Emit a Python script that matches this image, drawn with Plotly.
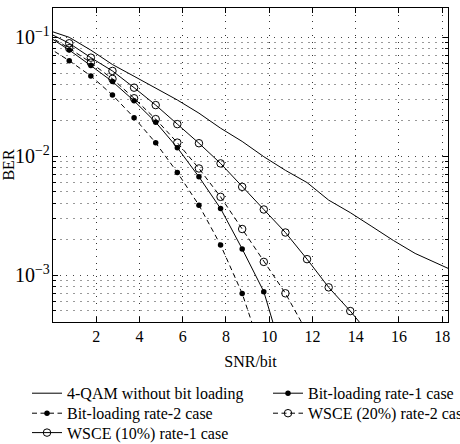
import plotly.graph_objects as go

# ---- data ----
qam_x = [-0.25, 0.75, 1.75, 2.75, 3.75, 4.75, 5.75, 6.75, 7.75, 8.75, 9.75,
         10.75, 11.75, 12.75, 13.75, 14.75, 15.75, 16.75, 17.75, 18.75]
qam_ber = [0.115, 0.100, 0.078, 0.059, 0.047, 0.0375, 0.0297, 0.023, 0.0172, 0.0133,
           0.0099, 0.0076, 0.0060, 0.00427, 0.00335, 0.00256, 0.00195, 0.00152,
           0.00126, 0.00104]

bl1_x = [-0.25, 0.75, 1.75, 2.75, 3.75, 4.75, 5.75, 6.75, 7.75, 8.75, 9.75, 10.75]
bl1_ber = [0.1026, 0.0782, 0.0578, 0.0424, 0.0292, 0.0193, 0.0118, 0.0067, 0.00363,
           0.00166, 0.000725, 0.000177]

bl2_x = [-0.25, 0.75, 1.75, 2.75, 3.75, 4.75, 5.75, 6.75, 7.75, 8.75, 9.75]
bl2_ber = [0.0828, 0.0636, 0.0473, 0.0327, 0.0211, 0.01295, 0.0073, 0.00387, 0.00179,
           0.00070, 0.00020]

w20_x = [-0.25, 0.75, 1.75, 2.75, 3.75, 4.75, 5.75, 6.75, 7.75, 8.75, 9.75, 10.75, 11.75]
w20_ber = [0.104, 0.081, 0.0612, 0.0447, 0.0307, 0.0205, 0.0130, 0.00788, 0.00455,
           0.00244, 0.00129, 0.000702, 0.00033]

w10_x = [-0.25, 0.75, 1.75, 2.75, 3.75, 4.75, 5.75, 6.75, 7.75, 8.75, 9.75, 10.75,
         11.75, 12.75, 13.75, 14.75]
w10_ber = [0.110, 0.0891, 0.0674, 0.0521, 0.0377, 0.0269, 0.0186, 0.01285, 0.00869,
           0.00552, 0.00356, 0.00228, 0.00136, 0.000788, 0.000498, 0.00030]

names = ["4-QAM without bit loading", "Bit-loading rate-1 case",
         "Bit-loading rate-2 case", "WSCE (20%) rate-2 case",
         "WSCE (10%) rate-1 case"]

x_ticks = [2, 4, 6, 8, 10, 12, 14, 16, 18]

FONT = "Liberation Serif"
DASH = "5px,3.5px"

fig = go.Figure()
fig.add_trace(go.Scatter(x=qam_x, y=qam_ber, mode="lines", name=names[0],
                         line=dict(color="black", width=1), legend="legend"))
fig.add_trace(go.Scatter(x=bl1_x, y=bl1_ber, mode="lines+markers", name=names[1],
                         line=dict(color="black", width=1),
                         marker=dict(symbol="circle", size=5.5, color="black"),
                         legend="legend2"))
fig.add_trace(go.Scatter(x=bl2_x, y=bl2_ber, mode="lines+markers", name=names[2],
                         line=dict(color="black", width=1, dash=DASH),
                         marker=dict(symbol="circle", size=5.5, color="black"),
                         legend="legend3"))
fig.add_trace(go.Scatter(x=w20_x, y=w20_ber, mode="lines+markers", name=names[3],
                         line=dict(color="black", width=1, dash=DASH),
                         marker=dict(symbol="circle-open", size=7.5, color="black",
                                     line=dict(width=1, color="black")),
                         legend="legend4"))
fig.add_trace(go.Scatter(x=w10_x, y=w10_ber, mode="lines+markers", name=names[4],
                         line=dict(color="black", width=1),
                         marker=dict(symbol="circle-open", size=7.5, color="black",
                                     line=dict(width=1, color="black")),
                         legend="legend5"))

leg_font = dict(family=FONT, size=16, color="black")
def leg(x, y):
    return dict(x=x, y=y, xanchor="left", yanchor="middle", xref="paper", yref="paper",
                bgcolor="rgba(0,0,0,0)", borderwidth=0, font=leg_font,
                orientation="v", itemwidth=30)

c1 = (27 - 53) / 395
c2 = (268 - 53) / 395
r1 = (322 - 393.3) / 314
r2 = (322 - 413.3) / 314
r3 = (322 - 432.7) / 314

fig.update_layout(
    width=460, height=444,
    margin=dict(l=53, r=12, t=8, b=122, autoexpand=False),
    paper_bgcolor="white", plot_bgcolor="white",
    font=dict(family=FONT, size=16, color="black"),
    showlegend=True,
    legend=leg(c1, r1), legend2=leg(c2, r1), legend3=leg(c1, r2),
    legend4=leg(c2, r2), legend5=leg(c1, r3),
    xaxis=dict(range=[0, 18.27], tickvals=x_ticks, ticks="inside", ticklen=5,
               tickcolor="black", showline=True, linecolor="black", linewidth=1,
               mirror="ticks", showgrid=True, gridcolor="#333", griddash="1px,5.7px",
               gridwidth=1, zeroline=False,
               title=dict(text="SNR/bit", font=dict(size=16), standoff=11),
               tickfont=dict(size=16)),
    yaxis=dict(type="log", range=[-3.395, -0.7535], dtick=1, exponentformat="power",
               ticks="inside", ticklen=5, tickcolor="black", showline=True,
               linecolor="black", linewidth=1, mirror="allticks", showgrid=True,
               gridcolor="#444", griddash="1px,5.7px", gridwidth=1, zeroline=False,
               ticklabelstandoff=-1,
               minor=dict(dtick="D1", ticks="inside", ticklen=3, tickcolor="black",
                          showgrid=True, gridcolor="#999", griddash="2px,4.7px",
                          gridwidth=1),
               title=dict(text="BER", font=dict(size=16), standoff=12),
               tickfont=dict(size=16)),
)

fig.write_html("out.html")
